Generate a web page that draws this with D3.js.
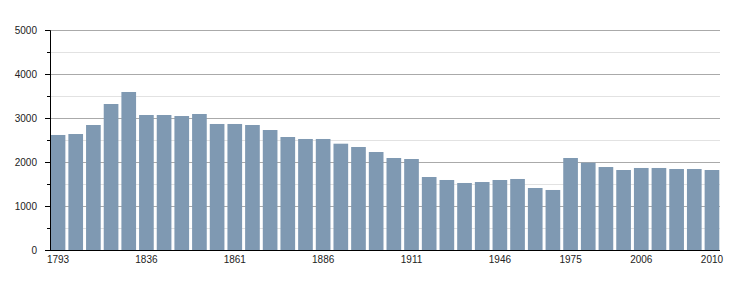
<!DOCTYPE html>
<html><head><meta charset="utf-8">
<script src="https://cdn.jsdelivr.net/npm/d3@7"></script>
<style>body{margin:0;background:#fff;} svg{display:block;font-family:"Liberation Sans",Arial,sans-serif;}</style>
</head><body><svg id="c" width="750" height="300"></svg>
<script>
const years = ["1793","1800","1806","1821","1831","1836","1841","1846","1851","1856","1861","1866","1872","1876","1881","1886","1891","1896","1901","1906","1911","1921","1926","1931","1936","1946","1954","1962","1968","1975","1982","1990","1999","2006","2007","2008","2009","2010"];
const population = [2614,2636,2841,3318,3591,3068,3068,3045,3091,2864,2864,2841,2727,2568,2523,2523,2416,2341,2227,2091,2068,1659,1591,1523,1545,1591,1614,1409,1364,2091,1985,1886,1818,1864,1864,1841,1841,1818];
const xLabels = ["1793","1836","1861","1886","1911","1946","1975","2006","2010"];
const majorTicks = [0,1000,2000,3000,4000,5000];
const minorTicks = [500,1500,2500,3500,4500];

const svg = d3.select("#c");
const L = 50, R = 720, T = 30, B = 250;
const x = d3.scaleBand().domain(years).range([L, R]).paddingInner(0.17).paddingOuter(0.04);
const y = d3.scaleLinear().domain([0, 5000]).range([B, T]);

// gridlines
svg.append("g").selectAll("line").data(minorTicks).join("line")
  .attr("x1", L).attr("x2", R).attr("y1", d => Math.round(y(d)) + 0.5).attr("y2", d => Math.round(y(d)) + 0.5)
  .attr("stroke", "#e2e2e2").attr("stroke-width", 1);
svg.append("g").selectAll("line").data(majorTicks.filter(d => d > 0)).join("line")
  .attr("x1", L).attr("x2", R).attr("y1", d => Math.round(y(d)) + 0.5).attr("y2", d => Math.round(y(d)) + 0.5)
  .attr("stroke", "#aaaaaa").attr("stroke-width", 1);

// bars
svg.append("g").selectAll("rect").data(years).join("rect")
  .attr("x", d => x(d)).attr("width", x.bandwidth())
  .attr("y", (d, i) => y(population[i])).attr("height", (d, i) => B - y(population[i]))
  .attr("fill", "#7f99b2");

// y axis
const yAxis = d3.axisLeft(y).tickValues(majorTicks).tickSize(5).tickPadding(8).tickFormat(d3.format("d"));
const gy = svg.append("g").attr("transform", `translate(${L},0)`).call(yAxis);
gy.select(".domain").attr("stroke", "#000");
gy.selectAll(".tick line").attr("stroke", "#000");
gy.selectAll("text").attr("font-size", 10).attr("fill", "#222").attr("font-family", "Liberation Sans, Arial, sans-serif");
const gyMinor = svg.append("g").attr("transform", `translate(${L},0)`)
  .call(d3.axisLeft(y).tickValues(minorTicks).tickSize(3).tickFormat(""));
gyMinor.select(".domain").remove();
gyMinor.selectAll(".tick line").attr("stroke", "#000");

// x axis
const xAxis = d3.axisBottom(x).tickValues(xLabels).tickSize(0).tickPadding(6);
const gx = svg.append("g").attr("transform", `translate(0,${B})`).call(xAxis);
gx.select(".domain").attr("stroke", "#000").attr("d", `M${L},0.5H${R}`);
gx.selectAll("text").attr("font-size", 10).attr("fill", "#222").attr("font-family", "Liberation Sans, Arial, sans-serif");
</script></body></html>
